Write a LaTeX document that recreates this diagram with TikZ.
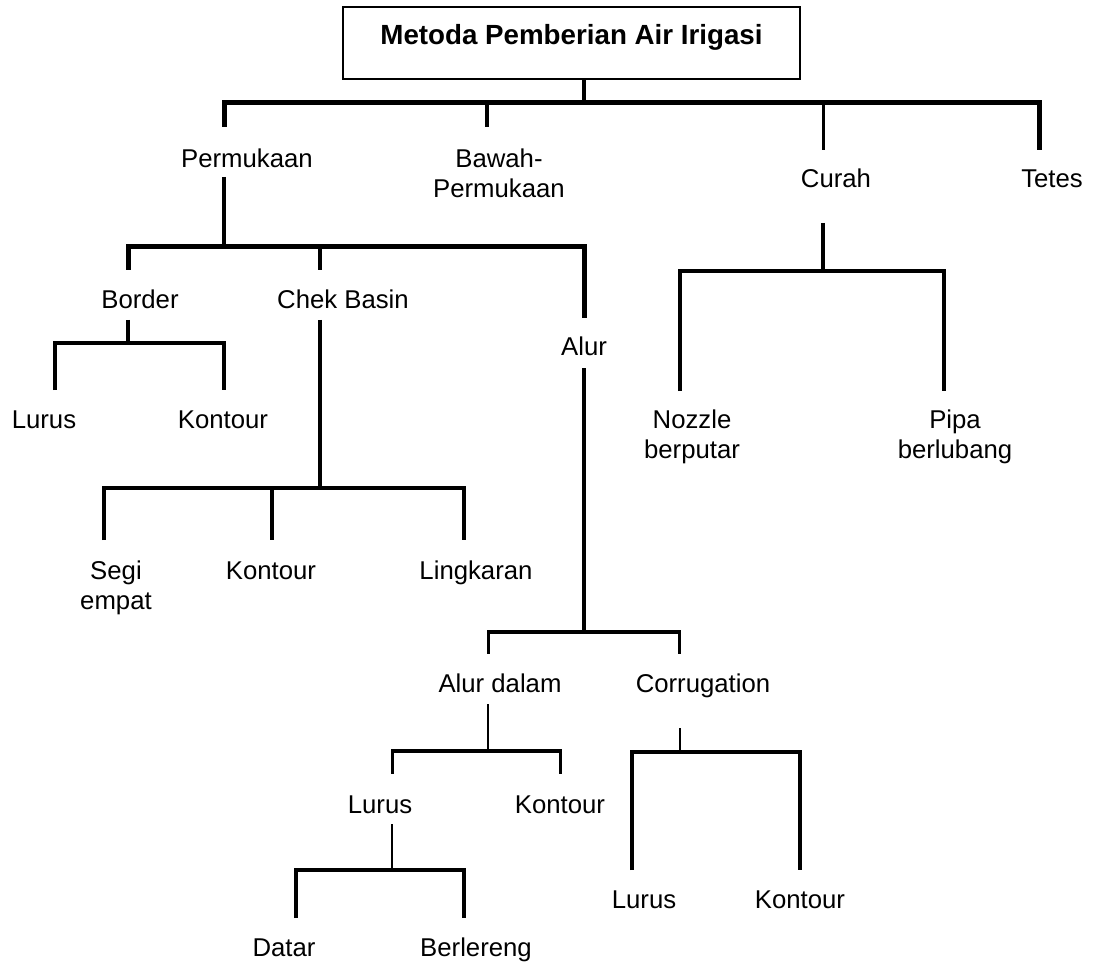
\documentclass[tikz,border=0pt]{standalone}
\usepackage{fontspec}
\setmainfont{Liberation Sans}
\begin{document}
\begin{tikzpicture}[x=0.75pt,y=-0.75pt,
  lbl/.style={inner sep=0pt,align=center,text height=13.8pt,text depth=0pt,font=\fontsize{19.3pt}{22.5pt}\selectfont},
  heavy/.style={line width=3.75pt,line join=miter},
  bold/.style={line width=3pt,line join=miter},
  mid/.style={line width=2.25pt,line join=miter},
  thin/.style={line width=1.5pt}]
\useasboundingbox (0,0) rectangle (1095,962);
% root
\node (root) [draw,line width=1pt,minimum width=342.75pt,minimum height=54pt,inner sep=0pt,
  label={[font=\fontsize{20.8pt}{24pt}\selectfont\bfseries,text height=14.9pt,text depth=0pt,inner sep=0pt,yshift=6pt]center:Metoda Pemberian Air Irigasi}] at (571.5,43) {};
% level 1 labels
\node (perm) [lbl] at (247,158) {Permukaan};
\node (bawah) [lbl] at (499,188) {Bawah-\\Permukaan};
\node (curah) [lbl] at (836,178) {Curah};
\node (tetes) [lbl] at (1052,178) {Tetes};
% level 1 connectors
\coordinate (r0) at (584,103);
\coordinate (b1L) at (224,103);
\coordinate (b1R) at (1039,103);
\draw[bold] (root.south -| r0) -- (r0);
\draw[heavy] (224,127) -- (b1L) -- (b1R) -- (1039,150);
\draw[bold] (487,103) -- (487,127);
\draw[mid] (823,103) -- (823,150);
% Curah subtree
\node (nozzle) [lbl] at (692,449) {Nozzle\\berputar};
\node (pipa) [lbl] at (955,449) {Pipa\\berlubang};
\coordinate (c0) at (823,223);
\coordinate (c1) at (823,271);
\draw[bold] (c0) -- (c1);
\draw[bold] (680,391) -- (680,271) -- (944,271) -- (944,391);
% Permukaan subtree
\node (border) [lbl] at (140,299) {Border};
\node (chek) [lbl] at (343,299) {Chek Basin};
\node (alur) [lbl] at (584,346) {Alur};
\coordinate (p0) at (224,177);
\coordinate (p1) at (224,247);
\draw[bold] (p0) -- (p1);
\draw[heavy] (128,270) -- (128,247) -- (584,247) -- (584,318);
\draw[bold] (320,247) -- (320,270);
% Border subtree
\node (lurus1) [lbl] at (44,419) {Lurus};
\node (kontour1) [lbl] at (223,419) {Kontour};
\draw[bold] (128,320) -- (128,343);
\draw[bold] (55,390) -- (55,343) -- (224,343) -- (224,390);
% Chek Basin subtree
\node (segi) [lbl] at (116,600) {Segi\\empat};
\node (kontour2) [lbl] at (271,570) {Kontour};
\node (lingkaran) [lbl] at (476,570) {Lingkaran};
\draw[bold] (320,320) -- (320,488);
\draw[bold] (104,540) -- (104,488) -- (464,488) -- (464,540);
\draw[bold] (272,488) -- (272,540);
% Alur subtree
\node (alurdalam) [lbl] at (500,683) {Alur dalam};
\node (corr) [lbl] at (703,683) {Corrugation};
\draw[bold] (584,368) -- (584,632);
\draw[bold] (488,632) -- (679,632);
\draw[mid] (488,630) -- (488,654);
\draw[mid] (679,630) -- (679,654);
% Alur dalam subtree
\node (lurus3) [lbl] at (380,804) {Lurus};
\node (kontour3) [lbl] at (560,804) {Kontour};
\draw[thin] (488,704) -- (488,751);
\draw[bold] (392,751) -- (560,751);
\draw[mid] (392,749) -- (392,774);
\draw[mid] (560,749) -- (560,774);
% Lurus subtree
\node (datar) [lbl] at (284,947) {Datar};
\node (berlereng) [lbl] at (476,947) {Berlereng};
\draw[thin] (392,824) -- (392,870);
\draw[bold] (296,918) -- (296,870) -- (464,870) -- (464,918);
% Corrugation subtree
\node (lurus4) [lbl] at (644,899) {Lurus};
\node (kontour4) [lbl] at (800,899) {Kontour};
\draw[thin] (680,728) -- (680,752);
\draw[bold] (632,870) -- (632,752) -- (800,752) -- (800,870);
\end{tikzpicture}
\end{document}
